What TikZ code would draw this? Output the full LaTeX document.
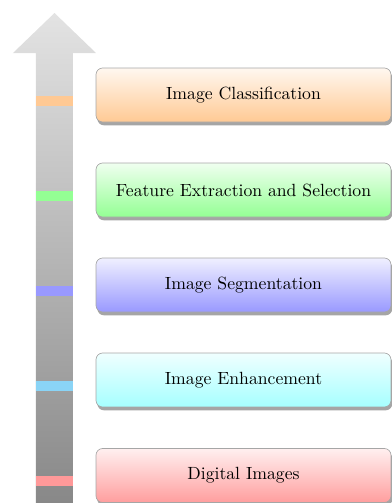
\documentclass[tikz,border=0pt]{standalone}
\usepackage{tikz}
\usetikzlibrary{positioning,shadows}
\definecolor{skyband}{RGB}{138,212,246}

\begin{document}
\begin{tikzpicture}[x=0.6pt,y=0.6pt,
  stage/.style={rectangle, rounded corners=4pt, draw=black!35, inner sep=0pt,
    minimum width=177pt, minimum height=32.4pt, font=\fontsize{10.6}{13}\selectfont,
    drop shadow={shadow xshift=0.8pt, shadow yshift=-2pt, fill=black!70, opacity=0.5}},
  band/.style={rectangle, inner sep=0pt, minimum width=22.2pt, minimum height=6pt}]
  \useasboundingbox (0,0) rectangle (391,503);
  % the arrow
  \shade[top color=black!11, bottom color=black!47] (36,-5) -- (36,450) -- (13,450) -- (54.5,490)
    -- (96,450) -- (73,450) -- (73,-5) -- cycle;
  % the stages
  \node [stage, top color=orange!6, bottom color=orange!42] (s5) at (243.5,408) {Image Classification};
  \node [stage, top color=green!6, bottom color=green!42] (s4) at (243.5,313) {Feature Extraction and Selection};
  \node [stage, top color=blue!6, bottom color=blue!40] (s3) at (243.5,218) {Image Segmentation};
  \node [stage, top color=cyan!6, bottom color=cyan!35] (s2) at (243.5,123) {Image Enhancement};
  \node [stage, top color=red!6, bottom color=red!38] (s1) at (243.5,27.5) {Digital Images};
  % marks on the arrow
  \node [band, fill=orange!42] (b5) at (54.5,402.5) {};
  \node [band, fill=green!42] (b4) at (54.5,307.5) {};
  \node [band, fill=blue!40] (b3) at (54.5,212.5) {};
  \node [band, fill=skyband] (b2) at (54.5,117.5) {};
  \node [band, fill=red!40] (b1) at (54.5,22) {};
\end{tikzpicture}
\end{document}
